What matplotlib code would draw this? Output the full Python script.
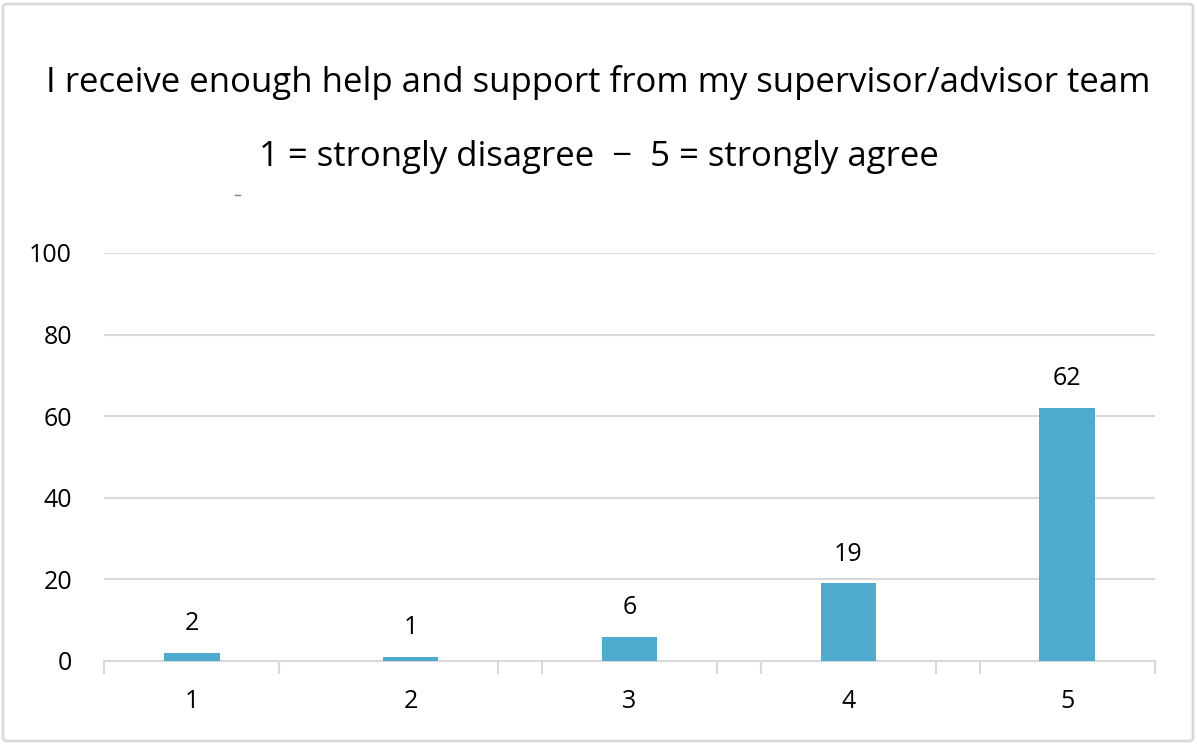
import matplotlib
matplotlib.use('Agg')
import matplotlib.pyplot as plt
from matplotlib.patches import FancyBboxPatch
from matplotlib.lines import Line2D

plt.rcParams['font.family'] = ['Open Sans', 'DejaVu Sans']

# data
categories = ['1', '2', '3', '4', '5']
values = [2, 1, 6, 19, 62]
title1 = 'I receive enough help and support from my supervisor/advisor team'
title2 = '1 = strongly disagree  \u2212  5 = strongly agree'

bar_color = '#4faccf'
grid_color = '#d9d9d9'

W, H = 1197, 744
fig = plt.figure(figsize=(W / 100, H / 100), dpi=100)
# plot area in pixels: x 104..1155, y 253..661
ax = fig.add_axes([104 / W, 1 - 661 / H, (1155 - 104) / W, (661 - 253) / H])

x = list(range(1, len(categories) + 1))
ax.bar(x, values, width=0.255, color=bar_color, zorder=3)
for xi, v in zip(x, values):
    ax.annotate(str(v), (xi, v), xytext=(0, 16.5), textcoords='offset points',
                ha='center', va='baseline', fontsize=18, color='#000000')

ax.set_xlim(0.6, 5.4)
ax.set_ylim(0, 100)
ax.set_yticks([0, 20, 40, 60, 80, 100])
ax.set_xticks(x)
ax.set_xticklabels(categories)
# Excel drew the category tick marks at these odd spots
ax.set_xticks([0.6, 1.4, 2.4, 2.6, 3.4, 3.6, 4.4, 4.6, 5.4], minor=True)
ax.tick_params(axis='x', which='major', length=0, pad=20, labelsize=18)
ax.tick_params(axis='x', which='minor', length=9, width=1.5, color=grid_color)
ax.tick_params(axis='y', length=0, pad=23, labelsize=18)

ax.grid(axis='y', color=grid_color, linewidth=1.5, zorder=0)
for s in ['top', 'right', 'left']:
    ax.spines[s].set_visible(False)
ax.spines['bottom'].set_color(grid_color)
ax.spines['bottom'].set_linewidth(1.5)

fig.text(0.5, 1 - 92 / H, title1, ha='center', va='baseline', fontsize=25)
fig.text(0.5, 1 - 166 / H, title2, ha='center', va='baseline', fontsize=25)

# small stray mark under the title
fig.add_artist(Line2D([235 / W, 240 / W], [1 - 195 / H, 1 - 195 / H],
                      color='#7f7f7f', linewidth=1))

# chart border
fig.add_artist(FancyBboxPatch((3 / W, 3 / H), 1 - 7 / W, 1 - 7 / H,
                              boxstyle='round,pad=0,rounding_size=0.004',
                              transform=fig.transFigure, fill=False,
                              edgecolor='#d9d9d9', linewidth=2))

fig.savefig('out.png', dpi=100)
